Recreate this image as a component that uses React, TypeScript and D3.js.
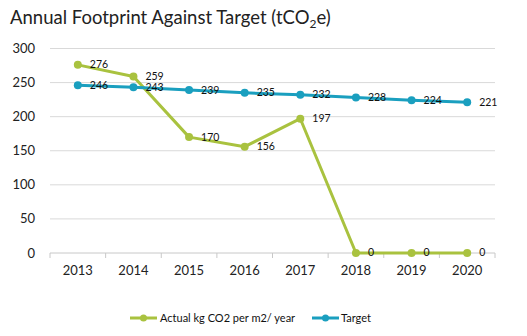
import React from "react";
import * as d3 from "d3";

const years = ["2013", "2014", "2015", "2016", "2017", "2018", "2019", "2020"];
const actual = [276, 259, 170, 156, 197, 0, 0, 0];
const target = [246, 243, 239, 235, 232, 228, 224, 221];
const yTicks = [0, 50, 100, 150, 200, 250, 300];

const W = 527, H = 336;
const GREEN = "#a9c23f";
const TEAL = "#1a9fbf";
const FONT = "Lato, 'Open Sans', sans-serif";

export default function App() {
  const x = d3.scaleBand().domain(years).range([50, 495]).padding(0);
  const y = d3.scaleLinear().domain([0, 300]).range([253, 48.5]);
  const cx = (yr: string) => (x(yr) as number) + x.bandwidth() / 2;
  const line = d3.line<number>().x((_, i) => cx(years[i])).y((d) => y(d));
  const series = [
    { name: "Actual kg CO2 per m2/ year", data: actual, color: GREEN },
    { name: "Target", data: target, color: TEAL },
  ];
  return (
    <svg width={W} height={H} style={{ position: "absolute", left: 0, top: 0, background: "#fff" }} fontFamily={FONT}>
      <text x={10} y={24} fontSize={18.5} fill="#222">
        Annual Footprint Against Target (tCO<tspan fontSize={12} dy={4}>2</tspan><tspan dy={-4}>e)</tspan>
      </text>
      {yTicks.map((t) => (
        <g key={t}>
          <line x1={50} x2={495} y1={y(t)} y2={y(t)} stroke={t === 0 ? "#c8c8c8" : "#d9d9d9"} strokeWidth={1} />
          <text x={35} y={y(t)} dy="0.35em" textAnchor="end" fontSize={13} fill="#222">{t}</text>
        </g>
      ))}
      {years.map((yr, i) => (
        <line key={"t" + i} x1={x(yr) as number} x2={x(yr) as number} y1={253} y2={258} stroke="#c8c8c8" />
      ))}
      <line x1={495} x2={495} y1={253} y2={258} stroke="#c8c8c8" />
      {years.map((yr) => (
        <text key={yr} x={cx(yr)} y={275} textAnchor="middle" fontSize={13} fill="#222">{yr}</text>
      ))}
      {series.map((s) => (
        <g key={s.name}>
          <path d={line(s.data) as string} fill="none" stroke={s.color} strokeWidth={3} strokeLinejoin="round" />
          {s.data.map((v, i) => (
            <circle key={i} cx={cx(years[i])} cy={y(v)} r={4} fill={s.color} />
          ))}
          {s.data.map((v, i) => (
            <text key={"l" + i} x={cx(years[i]) + 12} y={y(v)} dy="0.33em" fontSize={10.5} fill="#111">{v}</text>
          ))}
        </g>
      ))}
      <g>
        <line x1={130} x2={157} y1={318} y2={318} stroke={GREEN} strokeWidth={3} />
        <circle cx={143.5} cy={318} r={3.5} fill={GREEN} />
        <text x={160} y={318} dy="0.35em" fontSize={11} fill="#111">Actual kg CO2 per m2/ year</text>
        <line x1={312} x2={339} y1={318} y2={318} stroke={TEAL} strokeWidth={3} />
        <circle cx={325.5} cy={318} r={3.5} fill={TEAL} />
        <text x={341} y={318} dy="0.35em" fontSize={11} fill="#111">Target</text>
      </g>
    </svg>
  );
}
